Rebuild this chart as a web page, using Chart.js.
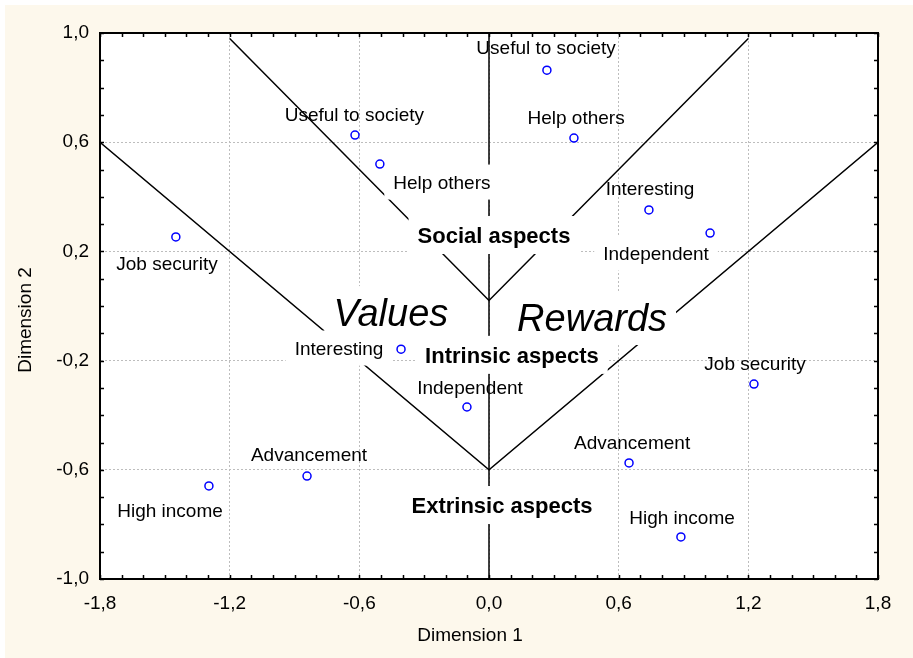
<!DOCTYPE html>
<html>
<head>
<script src="https://cdn.jsdelivr.net/npm/chart.js@4.4.1/dist/chart.umd.min.js"></script>
<style>
body { margin: 0; background: #fff; }
#panel { position: absolute; left: 5px; top: 5px; width: 908px; height: 653px; background: #fdf8ec; }
canvas { display: block; }
</style>
</head>
<body>
<div id="panel"><canvas id="myChart" width="908" height="653"></canvas></div>
<script>
// job aspects, two groups (same item order in every array)
var itemNames = ["Useful to society", "Help others", "Job security", "Interesting", "Independent", "Advancement", "High income"];
var valuesX = [-0.620, -0.505, -1.449, -0.407, -0.102, -0.842, -1.296];
var valuesY = [0.626, 0.520, 0.253, -0.158, -0.370, -0.623, -0.659];
var rewardsX = [0.268, 0.393, 1.226, 0.740, 1.023, 0.648, 0.888];
var rewardsY = [0.864, 0.615, -0.286, 0.352, 0.267, -0.575, -0.846];

// where the item names sit (data units)
var valuesLabelX = [-0.623, -0.218, -1.490, -0.694, -0.088, -0.833, -1.476];
var valuesLabelY = [0.703, 0.454, 0.158, -0.154, -0.297, -0.542, -0.747];
var rewardsLabelX = [0.264, 0.403, 1.231, 0.745, 0.773, 0.662, 0.893];
var rewardsLabelY = [0.949, 0.692, -0.209, 0.432, 0.194, -0.498, -0.773];

var groupNames = ["Values", "Rewards"];
var groupX = [-0.454, 0.477];
var groupY = [-0.026, -0.044];
var aspectNames = ["Social aspects", "Intrinsic aspects", "Extrinsic aspects"];
var aspectX = [0.023, 0.106, 0.060];
var aspectY = [0.260, -0.179, -0.729];

// dividing lines
var outerX = [-1.8, 0, 1.8], outerY = [0.6, -0.6, 0.6];
var innerX = [-1.2, 0, 1.2], innerY = [0.98, 0.02, 0.98];
var midX = [0, 0], midY = [-1, 1];

var xMin = -1.8, xMax = 1.8, xMajor = 0.6;
var yMin = -1.0, yMax = 1.0, yMajor = 0.4;

// labels that knock out the lines behind them
var boxedValues = [1, 3], boxedRewards = [4];

var FONT = "'Liberation Sans', Arial, sans-serif";

function pts(xs, ys) { return xs.map(function (v, i) { return {x: v, y: ys[i]}; }); }
function onStep(v, start, step) { var k = (v - start) / step; return Math.abs(k - Math.round(k)) < 1e-6; }
function fmt(v) { return (Math.abs(v) < 1e-9 ? 0 : v).toFixed(1).replace('.', ','); }

var lineStyle = {showLine: true, borderColor: '#000', borderWidth: 1.5, pointRadius: 0, fill: false, order: 2};

var labelPlugin = {
    id: 'labels',
    beforeDraw: function (chart) {
        var a = chart.chartArea, ctx = chart.ctx;
        ctx.save();
        ctx.fillStyle = '#fff';
        ctx.fillRect(a.left, a.top, a.right - a.left, a.bottom - a.top);
        ctx.restore();
    },
    beforeDatasetDraw: function (chart, args) {
        if (args.index !== 0) return;
        var ctx = chart.ctx, x = chart.scales.x, y = chart.scales.y;
        var items = [];
        itemNames.forEach(function (n, i) {
            items.push({t: n, x: valuesLabelX[i], y: valuesLabelY[i], size: 19, font: "19px " + FONT, box: boxedValues.indexOf(i) >= 0});
            items.push({t: n, x: rewardsLabelX[i], y: rewardsLabelY[i], size: 19, font: "19px " + FONT, box: boxedRewards.indexOf(i) >= 0});
        });
        groupNames.forEach(function (n, i) {
            items.push({t: n, x: groupX[i], y: groupY[i], size: 38, font: "italic 38px " + FONT, box: true});
        });
        aspectNames.forEach(function (n, i) {
            items.push({t: n, x: aspectX[i], y: aspectY[i], size: 22, font: "bold 22px " + FONT, box: true});
        });
        ctx.save();
        ctx.fillStyle = '#fff';
        items.forEach(function (it) {
            if (!it.box) return;
            ctx.font = it.font;
            var w = ctx.measureText(it.t).width;
            var px = x.getPixelForValue(it.x), py = y.getPixelForValue(it.y);
            ctx.fillRect(px - w / 2 - 9, py - it.size / 2 - 8, w + 18, it.size + 16);
        });
        ctx.fillStyle = '#000';
        ctx.textAlign = 'center';
        ctx.textBaseline = 'middle';
        items.forEach(function (it) {
            ctx.font = it.font;
            // canvas "middle" sits a little high for these glyphs
            ctx.fillText(it.t, x.getPixelForValue(it.x), y.getPixelForValue(it.y) + 2);
        });
        ctx.restore();
    },
    afterDraw: function (chart) {
        var ctx = chart.ctx, a = chart.chartArea, x = chart.scales.x, y = chart.scales.y;
        ctx.save();
        ctx.strokeStyle = '#000';
        ctx.lineWidth = 1.5;
        ctx.beginPath();
        x.ticks.forEach(function (t) {
            var px = Math.round(x.getPixelForValue(t.value)) + 0.5;
            ctx.moveTo(px, a.bottom); ctx.lineTo(px, a.bottom - 4);
            ctx.moveTo(px, a.top); ctx.lineTo(px, a.top + 4);
        });
        y.ticks.forEach(function (t) {
            var py = Math.round(y.getPixelForValue(t.value)) + 0.5;
            ctx.moveTo(a.left, py); ctx.lineTo(a.left + 4, py);
            ctx.moveTo(a.right, py); ctx.lineTo(a.right - 4, py);
        });
        ctx.stroke();
        // axis titles
        ctx.fillStyle = '#000';
        ctx.font = "19px " + FONT;
        ctx.textAlign = 'center';
        ctx.textBaseline = 'middle';
        ctx.fillText("Dimension 1", (a.left + a.right) / 2 - 19, a.bottom + 57);
        ctx.translate(21, (a.top + a.bottom) / 2 + 14);
        ctx.rotate(-Math.PI / 2);
        ctx.fillText("Dimension 2", 0, 0);
        ctx.restore();
    }
};

function frameAxis(pos, size) {
    var horiz = pos === 'top';
    return {
        type: 'linear', position: pos,
        min: horiz ? xMin : yMin, max: horiz ? xMax : yMax,
        ticks: {display: false},
        grid: {drawOnChartArea: false, drawTicks: false},
        border: {display: true, color: '#000', width: 2},
        afterFit: function (s) { if (horiz) s.height = size; else s.width = size; }
    };
}

var ctx = document.getElementById("myChart").getContext("2d");
var myChart = new Chart(ctx, {
    type: 'scatter',
    data: {
        datasets: [{
            label: 'Items',
            data: pts(valuesX, valuesY).concat(pts(rewardsX, rewardsY)),
            pointRadius: 4,
            pointBorderWidth: 1.5,
            pointBorderColor: '#0000ff',
            pointBackgroundColor: '#fff',
            order: 1
        },
        Object.assign({data: pts(outerX, outerY)}, lineStyle),
        Object.assign({data: pts(innerX, innerY)}, lineStyle),
        Object.assign({data: pts(midX, midY)}, lineStyle)]
    },
    options: {
        responsive: false,
        animation: false,
        devicePixelRatio: 1,
        layout: {padding: 0},
        plugins: {legend: {display: false}, tooltip: {enabled: false}},
        scales: {
            x: {
                type: 'linear', position: 'bottom', min: xMin, max: xMax,
                ticks: {
                    stepSize: 0.1, autoSkip: false, maxRotation: 0, padding: 13,
                    color: '#000', font: {family: FONT, size: 19},
                    callback: function (v) { return onStep(v, xMin, xMajor) ? fmt(v) : ''; }
                },
                grid: {
                    drawTicks: false, lineWidth: 1,
                    color: function (c) { return c.tick && onStep(c.tick.value, xMin, xMajor) ? '#bdbdbd' : 'rgba(0,0,0,0)'; }
                },
                border: {display: true, color: '#000', width: 2, dash: [2, 2]},
                afterFit: function (s) { s.height = 79; }
            },
            y: {
                type: 'linear', position: 'left', min: yMin, max: yMax,
                ticks: {
                    stepSize: 0.1, autoSkip: false, padding: 11,
                    color: '#000', font: {family: FONT, size: 19},
                    callback: function (v) { return onStep(v, yMin, yMajor) ? fmt(v) : ''; }
                },
                grid: {
                    drawTicks: false, lineWidth: 1,
                    color: function (c) { return c.tick && onStep(c.tick.value, yMin, yMajor) ? '#bdbdbd' : 'rgba(0,0,0,0)'; }
                },
                border: {display: true, color: '#000', width: 2, dash: [2, 2]},
                afterFit: function (s) { s.width = 95; }
            },
            x2: frameAxis('top', 28),
            y2: frameAxis('right', 35)
        }
    },
    plugins: [labelPlugin]
});
</script>
</body>
</html>
